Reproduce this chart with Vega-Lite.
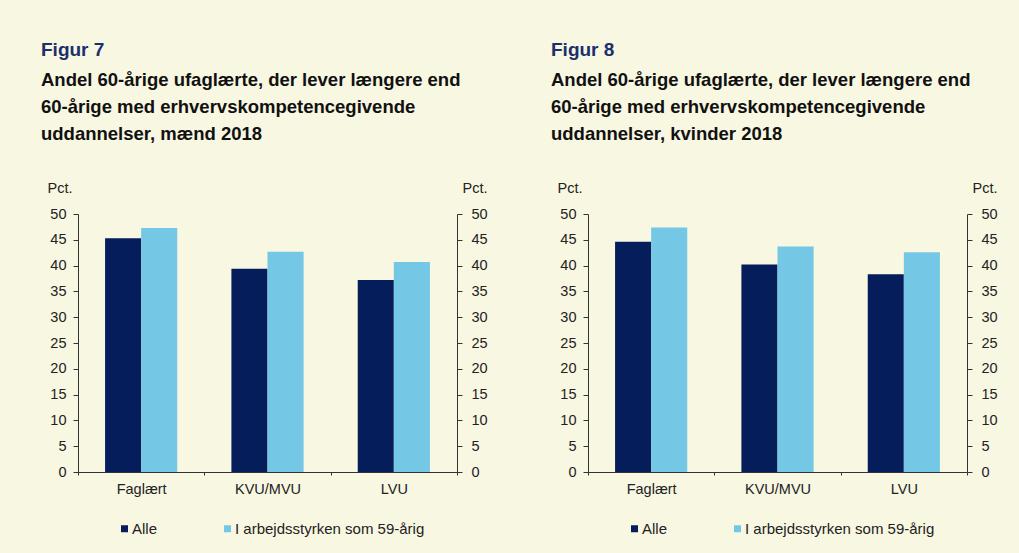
{
  "$schema": "https://vega.github.io/schema/vega-lite/v6.json",
  "background": "#f8f7e2",
  "padding": {"left": 41, "top": 40, "right": 40, "bottom": 40},
  "config": {
    "font": "Liberation Sans",
    "view": {"stroke": null},
    "axis": {
      "domainColor": "#333333",
      "tickColor": "#333333",
      "labelColor": "#222222",
      "labelFontSize": 14.5,
      "labelFont": "Liberation Sans",
      "titleFont": "Liberation Sans",
      "titleFontSize": 14.5,
      "titleFontWeight": "normal",
      "titleColor": "#222222",
      "grid": false
    },
    "legend": {
      "labelFont": "Liberation Sans",
      "labelFontSize": 15,
      "labelColor": "#222222",
      "labelLimit": 0
    },
    "title": {
      "font": "Liberation Sans",
      "subtitleFont": "Liberation Sans"
    }
  },
  "datasets": {
    "vals": [
      {"panel": "m", "cat": "Faglært", "series": "Alle", "value": 45.3},
      {"panel": "m", "cat": "Faglært", "series": "I arbejdsstyrken som 59-årig", "value": 47.3},
      {"panel": "m", "cat": "KVU/MVU", "series": "Alle", "value": 39.4},
      {"panel": "m", "cat": "KVU/MVU", "series": "I arbejdsstyrken som 59-årig", "value": 42.7},
      {"panel": "m", "cat": "LVU", "series": "Alle", "value": 37.2},
      {"panel": "m", "cat": "LVU", "series": "I arbejdsstyrken som 59-årig", "value": 40.7},
      {"panel": "k", "cat": "Faglært", "series": "Alle", "value": 44.6},
      {"panel": "k", "cat": "Faglært", "series": "I arbejdsstyrken som 59-årig", "value": 47.4},
      {"panel": "k", "cat": "KVU/MVU", "series": "Alle", "value": 40.2},
      {"panel": "k", "cat": "KVU/MVU", "series": "I arbejdsstyrken som 59-årig", "value": 43.7},
      {"panel": "k", "cat": "LVU", "series": "Alle", "value": 38.3},
      {"panel": "k", "cat": "LVU", "series": "I arbejdsstyrken som 59-årig", "value": 42.6}
    ]
  },
  "bounds": "flush",
  "spacing": 131,
  "resolve": {"legend": {"color": "independent"}},
  "hconcat": [
    {
      "title": {
        "text": "Figur 7",
        "subtitle": ["Andel 60-årige ufaglærte, der lever længere end", "60-årige med erhvervskompetencegivende", "uddannelser, mænd 2018"],
        "anchor": "start", "frame": "group", "dx": -37, "offset": 37,
        "fontSize": 19, "fontWeight": "bold", "color": "#1c2f6d",
        "subtitleFontSize": 18.5, "subtitleFontWeight": "bold", "subtitleColor": "#111111",
        "subtitleLineHeight": 27, "subtitlePadding": 11
      },
      "width": 379, "height": 258,
      "data": {"name": "vals"},
      "transform": [{"filter": "datum.panel == 'm'"}],
      "resolve": {"axis": {"y": "independent"}},
      "layer": [
        {
          "mark": {"type": "bar"},
          "encoding": {
            "x": {"field": "cat", "type": "nominal", "sort": ["Faglært", "KVU/MVU", "LVU"],
                  "scale": {"paddingInner": 0, "paddingOuter": 0},
                  "axis": {"title": null, "labelAngle": 0, "tickBand": "extent", "tickSize": 3, "labelPadding": 7}},
            "xOffset": {"field": "series", "type": "nominal", "sort": ["Alle", "I arbejdsstyrken som 59-årig"],
                        "scale": {"paddingInner": 0, "paddingOuter": 0.75}},
            "y": {"field": "value", "type": "quantitative", "scale": {"domain": [0, 50], "nice": false},
                  "axis": {"orient": "left", "values": [0,5,10,15,20,25,30,35,40,45,50], "tickSize": 5, "labelPadding": 7,
                           "title": "Pct.", "titleAngle": 0, "titleAlign": "left", "titleBaseline": "alphabetic", "titleX": -31, "titleY": -22}},
            "color": {"field": "series", "type": "nominal", "sort": ["Alle", "I arbejdsstyrken som 59-årig"],
                      "scale": {"domain": ["Alle", "I arbejdsstyrken som 59-årig"], "range": ["#051d5b", "#75c8e5"]},
                      "legend": {"orient": "none", "legendX": 39, "legendY": 307, "direction": "horizontal", "title": null,
                                 "symbolType": "square", "symbolSize": 49, "symbolStrokeWidth": 0, "columnPadding": 62, "labelOffset": 0}}
          }
        },
        {
          "mark": {"type": "bar", "opacity": 0},
          "encoding": {
            "x": {"field": "cat", "type": "nominal", "sort": ["Faglært", "KVU/MVU", "LVU"]},
            "xOffset": {"field": "series", "type": "nominal", "sort": ["Alle", "I arbejdsstyrken som 59-årig"]},
            "y": {"field": "value", "type": "quantitative",
                  "axis": {"orient": "right", "values": [0,5,10,15,20,25,30,35,40,45,50], "tickSize": 5, "labelPadding": 9,
                           "title": "Pct.", "titleAngle": 0, "titleAlign": "left", "titleBaseline": "alphabetic", "titleX": 5, "titleY": -22}}
          }
        }
      ]
    },
    {
      "title": {
        "text": "Figur 8",
        "subtitle": ["Andel 60-årige ufaglærte, der lever længere end", "60-årige med erhvervskompetencegivende", "uddannelser, kvinder 2018"],
        "anchor": "start", "frame": "group", "dx": -37, "offset": 37,
        "fontSize": 19, "fontWeight": "bold", "color": "#1c2f6d",
        "subtitleFontSize": 18.5, "subtitleFontWeight": "bold", "subtitleColor": "#111111",
        "subtitleLineHeight": 27, "subtitlePadding": 11
      },
      "width": 379, "height": 258,
      "data": {"name": "vals"},
      "transform": [{"filter": "datum.panel == 'k'"}],
      "resolve": {"axis": {"y": "independent"}},
      "layer": [
        {
          "mark": {"type": "bar"},
          "encoding": {
            "x": {"field": "cat", "type": "nominal", "sort": ["Faglært", "KVU/MVU", "LVU"],
                  "scale": {"paddingInner": 0, "paddingOuter": 0},
                  "axis": {"title": null, "labelAngle": 0, "tickBand": "extent", "tickSize": 3, "labelPadding": 7}},
            "xOffset": {"field": "series", "type": "nominal", "sort": ["Alle", "I arbejdsstyrken som 59-årig"],
                        "scale": {"paddingInner": 0, "paddingOuter": 0.75}},
            "y": {"field": "value", "type": "quantitative", "scale": {"domain": [0, 50], "nice": false},
                  "axis": {"orient": "left", "values": [0,5,10,15,20,25,30,35,40,45,50], "tickSize": 5, "labelPadding": 7,
                           "title": "Pct.", "titleAngle": 0, "titleAlign": "left", "titleBaseline": "alphabetic", "titleX": -31, "titleY": -22}},
            "color": {"field": "series", "type": "nominal", "sort": ["Alle", "I arbejdsstyrken som 59-årig"],
                      "scale": {"domain": ["Alle", "I arbejdsstyrken som 59-årig"], "range": ["#051d5b", "#75c8e5"]},
                      "legend": {"orient": "none", "legendX": 39, "legendY": 307, "direction": "horizontal", "title": null,
                                 "symbolType": "square", "symbolSize": 49, "symbolStrokeWidth": 0, "columnPadding": 62, "labelOffset": 0}}
          }
        },
        {
          "mark": {"type": "bar", "opacity": 0},
          "encoding": {
            "x": {"field": "cat", "type": "nominal", "sort": ["Faglært", "KVU/MVU", "LVU"]},
            "xOffset": {"field": "series", "type": "nominal", "sort": ["Alle", "I arbejdsstyrken som 59-årig"]},
            "y": {"field": "value", "type": "quantitative",
                  "axis": {"orient": "right", "values": [0,5,10,15,20,25,30,35,40,45,50], "tickSize": 5, "labelPadding": 9,
                           "title": "Pct.", "titleAngle": 0, "titleAlign": "left", "titleBaseline": "alphabetic", "titleX": 5, "titleY": -22}}
          }
        }
      ]
    }
  ]
}
